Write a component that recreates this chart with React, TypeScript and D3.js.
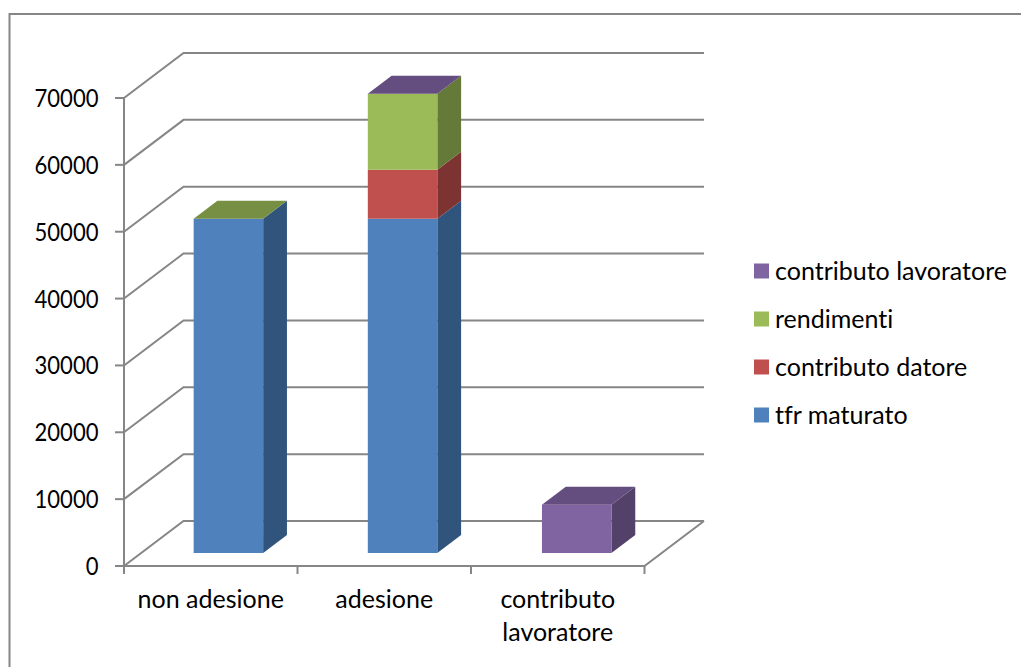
import React from "react";
import * as d3 from "d3";

const categories = ["non adesione", "adesione", "contributo lavoratore"];
const categoryLines = [["non adesione"], ["adesione"], ["contributo", "lavoratore"]];
const tfrMaturato = [50000, 50000, 0];
const contributoDatore = [0, 7300, 0];
const rendimenti = [0, 11400, 0];
const contributoLavoratore: (number | null)[] = [null, 0, 7200];
const yTicks = [0, 10000, 20000, 30000, 40000, 50000, 60000, 70000];

const series = [
  { name: "tfr maturato", values: tfrMaturato, front: "#4f81bd", side: "#31547d", top: "#3f6797" },
  { name: "contributo datore", values: contributoDatore, front: "#c0504d", side: "#7d3331", top: "#9a403e" },
  { name: "rendimenti", values: rendimenti, front: "#9bbb59", side: "#657a39", top: "#768f42" },
  { name: "contributo lavoratore", values: contributoLavoratore, front: "#8064a2", side: "#534169", top: "#644d7f" },
];

const GRID = "#868686";
const FONT = "Lato, Carlito, sans-serif";
const FLOOR_DX = 59.5;
const FLOOR_DY = -45;

const x = d3.scaleBand<string>().domain(categories).range([124, 644.5]);
// Left edges of the bars' front faces, set slightly in front of the back wall.
const barLeft = d3.scalePoint<string>().domain(categories).range([176.4, 524.7]);
const y = d3.scaleLinear().domain([0, 70000]).range([566, 98]);
const height = (v: number) => y(0) - y(v);

// Maps a point on the front plane to a point pushed back by a fraction of the floor depth.
const project = (px: number, py: number, depth: number): [number, number] => [
  px + FLOOR_DX * depth,
  py + FLOOR_DY * depth,
];
const path = (points: [number, number][]) => d3.line()(points) + "Z";

const BAR_WIDTH = 69.5;
const DEPTH_FRONT = 0.29;
const DEPTH_BACK = 0.69;
const DIGIT_WIDTH = 12.8;

function Bar({ index }: { index: number }) {
  const left = barLeft(categories[index])!;
  const right = left + BAR_WIDTH;
  const active = series.filter((s) => s.values[index] !== null);
  const stacked = d3.cumsum(active, (s) => s.values[index] as number);
  const faces = active.map((s, i) => {
    const top = y(stacked[i]);
    const bottom = top + height(s.values[index] as number);
    return (
      <g key={s.name}>
        <path
          d={path([
            project(right, bottom, DEPTH_FRONT),
            project(right, bottom, DEPTH_BACK),
            project(right, top, DEPTH_BACK),
            project(right, top, DEPTH_FRONT),
          ])}
          fill={s.side}
        />
        <path
          d={path([
            project(left, bottom, DEPTH_FRONT),
            project(right, bottom, DEPTH_FRONT),
            project(right, top, DEPTH_FRONT),
            project(left, top, DEPTH_FRONT),
          ])}
          fill={s.front}
        />
      </g>
    );
  });
  const last = active[active.length - 1];
  const summit = y(stacked[stacked.length - 1]);
  return (
    <g>
      {faces}
      <path
        d={path([
          project(left, summit, DEPTH_FRONT),
          project(right, summit, DEPTH_FRONT),
          project(right, summit, DEPTH_BACK),
          project(left, summit, DEPTH_BACK),
        ])}
        fill={last.top}
      />
    </g>
  );
}

export default function App() {
  const [x0, x1] = x.range();
  const categoryEdges = [...categories.map((c) => x(c)!), x1];
  const legend = [...series].reverse();
  return (
    <svg
      width={1021}
      height={667}
      style={{ position: "absolute", left: 0, top: 0, background: "#fff", fontVariantLigatures: "none" }}
      fontFamily={FONT}
      fontSize={25}
      fill="#000"
    >
      {/* Chart area frame, open towards the right and bottom page edges */}
      <path d="M9.5,667V14H1021" fill="none" stroke={GRID} strokeWidth={2} />

      {/* Wall gridlines running back from the value axis */}
      {yTicks.map((t) => (
        <path
          key={t}
          d={d3.line()([
            [x0, y(t)],
            project(x0, y(t), 1),
            project(x1, y(t), 1),
          ]) as string}
          fill="none"
          stroke={GRID}
          strokeWidth={2}
        />
      ))}
      {/* Floor edges */}
      <path
        d={d3.line()([[x0, y(0)], [x1, y(0)], project(x1, y(0), 1)]) as string}
        fill="none"
        stroke={GRID}
        strokeWidth={2}
      />

      {/* Value axis */}
      <line x1={x0} x2={x0} y1={y(70000)} y2={y(0) + 8} stroke={GRID} strokeWidth={2} />
      {yTicks.map((t) => (
        <g key={t}>
          <line x1={x0 - 9} x2={x0} y1={y(t)} y2={y(t)} stroke={GRID} strokeWidth={2} />
          <text
            x={98.5}
            y={y(t) + 9}
            textAnchor="end"
            textLength={String(t).length * DIGIT_WIDTH}
            lengthAdjust="spacingAndGlyphs"
          >
            {t}
          </text>
        </g>
      ))}

      {/* Category axis */}
      {categoryEdges.map((edge) => (
        <line key={edge} x1={edge} x2={edge} y1={y(0)} y2={y(0) + 8} stroke={GRID} strokeWidth={2} />
      ))}
      {categoryLines.map((lines, i) =>
        lines.map((line, j) => (
          <text
            key={line}
            x={x(categories[i])! + x.bandwidth() / 2}
            y={608 + j * 33}
            textAnchor="middle"
          >
            {line}
          </text>
        ))
      )}

      {categories.map((c, i) => (
        <Bar key={c} index={i} />
      ))}

      {/* Legend, listed from the top of the stack downwards */}
      {legend.map((s, i) => {
        const cy = 271 + i * 48;
        return (
          <g key={s.name}>
            <rect x={754} y={cy - 7.5} width={15} height={15} fill={s.front} />
            <text x={775} y={cy + 8.5}>
              {s.name}
            </text>
          </g>
        );
      })}
    </svg>
  );
}
